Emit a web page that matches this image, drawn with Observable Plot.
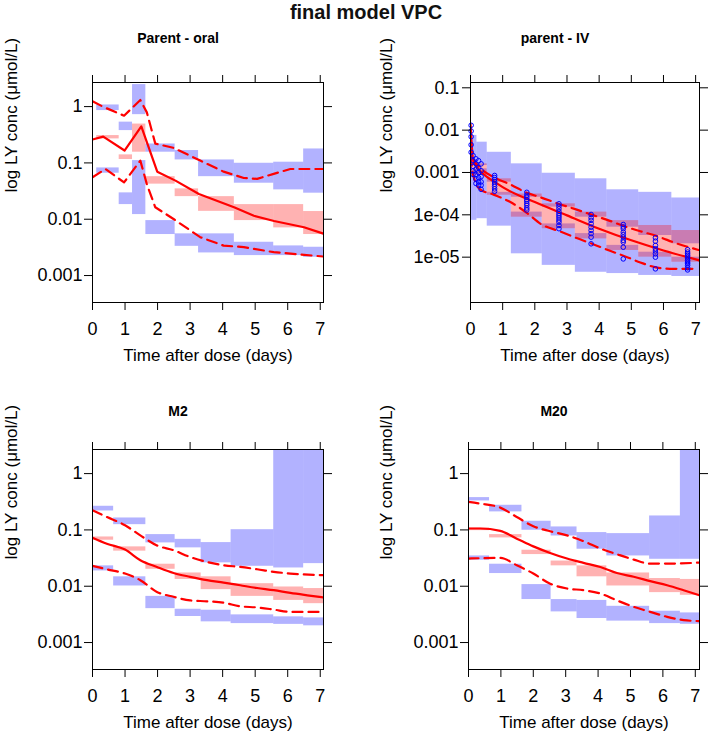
<!DOCTYPE html>
<html>
<head>
<meta charset="utf-8">
<script src="https://cdn.jsdelivr.net/npm/d3@7"></script>
<script src="https://cdn.jsdelivr.net/npm/@observablehq/plot@0.6"></script>
<style>
  body { margin: 0; background: white; }
  #wrap { position: relative; width: 709px; height: 738px; overflow: hidden; font-family: "Liberation Sans", Arial, sans-serif; }
  #wrap svg { position: absolute; background: transparent !important; max-width: none !important; }
  #title { position: absolute; left: 0; top: 1px; width: 732px; text-align: center; font-weight: bold; font-size: 20px; line-height: 22px; color: #111; }
</style>
</head>
<body>
<div id="wrap"></div>
<script>
// ---------- shared ----------
const xTicks = [0, 1, 2, 3, 4, 5, 6, 7];
const yTicksA = [1, 0.1, 0.01, 0.001];
const yLabelsA = ["1", "0.1", "0.01", "0.001"];
const yTicksB = [0.1, 0.01, 0.001, 1e-4, 1e-5];
const yLabelsB = ["0.1", "0.01", "0.001", "1e-04", "1e-05"];
const titles = ["Parent - oral", "parent - IV", "M2", "M20"];
const xTitle = "Time after dose (days)";
const yTitle = "log LY conc (μmol/L)";

// ---------- Panel 1: Parent - oral ----------
const p1BinStart = [0.13, 0.82, 1.23, 1.64, 2.54, 3.26, 4.36, 5.57, 6.49];
const p1BinEnd   = [0.82, 1.23, 1.64, 2.54, 3.26, 4.36, 5.57, 6.49, 7.12];
const p1HiTop = [1.07, 0.53, 2.46, 0.217, 0.166, 0.113, 0.0986, 0.103, 0.177];
const p1HiBot = [0.85, 0.375, 0.72, 0.155, 0.113, 0.057, 0.0436, 0.0332, 0.029];
const p1MedTop = [0.306, 0.139, 0.49, 0.057, 0.0346, 0.0252, 0.0182, 0.0182, 0.0137];
const p1MedBot = [0.267, 0.115, 0.155, 0.042, 0.0252, 0.0138, 0.00946, 0.00702, 0.00535];
const p1LoTop = [0.0815, 0.0294, 0.11, 0.00946, 0.0055, 0.0055, 0.0039, 0.00336, 0.00318];
const p1LoBot = [0.0656, 0.0182, 0.0121, 0.00535, 0.0033, 0.00252, 0.00226, 0.00226, 0.00211];
const p1MedT = [0, 0.33, 0.985, 1.5, 1.99, 2.55, 3.27, 4.35, 4.96, 5.58, 6.5, 7.12];
const p1MedV = [0.26, 0.293, 0.166, 0.447, 0.070, 0.0485, 0.028, 0.0163, 0.0115, 0.0093, 0.0072, 0.0055];
const p1UpT = [0, 0.35, 0.97, 1.47, 1.67, 1.93, 2.49, 3.31, 4.03, 4.65, 5.06, 5.57, 6.08, 7.12];
const p1UpV = [1.24, 0.98, 0.69, 1.31, 0.79, 0.22, 0.185, 0.11, 0.07, 0.054, 0.052, 0.064, 0.078, 0.078];
const p1DnT = [0, 0.4, 0.97, 1.47, 1.67, 1.93, 2.49, 3.31, 4.03, 4.65, 5.57, 7.12];
const p1DnV = [0.0557, 0.078, 0.045, 0.11, 0.042, 0.0163, 0.0101, 0.0048, 0.0034, 0.0032, 0.0026, 0.00217];

// ---------- Panel 2: parent - IV ----------
const p2BinStart = [0, 0.2, 0.52, 1.27, 2.23, 3.26, 4.24, 5.23, 6.26];
const p2BinEnd   = [0.2, 0.52, 1.27, 2.23, 3.26, 4.24, 5.23, 6.26, 7.12];
const p2HiTop = [0.0075, 0.0052, 0.0030, 0.0016, 9.6e-4, 7.1e-4, 3.9e-4, 3.4e-4, 2.5e-4];
const p2HiBot = [1.46e-3, 1.46e-3, 5.9e-4, 2.6e-4, 1.52e-4, 8.8e-5, 5.1e-5, 3.25e-5, 2.07e-5];
const p2MedTop = [1.6e-3, 1.6e-3, 7.1e-4, 3.1e-4, 1.82e-4, 1.16e-4, 7.3e-5, 5.6e-5, 4.26e-5];
const p2MedBot = [8.5e-4, 8.5e-4, 2.9e-4, 8.8e-5, 4.7e-5, 2.7e-5, 1.44e-5, 1.0e-5, 7.6e-6];
const p2LoTop = [1.22e-3, 1.22e-3, 3.4e-4, 1.16e-4, 6.1e-5, 3.6e-5, 1.9e-5, 1.31e-5, 1.0e-5];
const p2LoBot = [7.4e-5, 8.1e-5, 5.4e-5, 1.2e-5, 6.4e-6, 4.4e-6, 4.1e-6, 3.7e-6, 3.5e-6];
const p2MedT = [0, 0.08, 0.25, 0.5, 0.75, 1.0, 2.0, 3.0, 4.0, 5.0, 6.0, 7.12];
const p2MedV = [0.014, 0.002, 0.0012, 8e-4, 6e-4, 4.5e-4, 2.0e-4, 9.7e-5, 4.7e-5, 2.5e-5, 1.44e-5, 8.4e-6];
const p2UpT = [0, 0.08, 0.3, 0.72, 1.24, 1.76, 2.17, 2.8, 3.21, 3.83, 4.25, 4.87, 5.28, 5.9, 6.31, 7.09];
const p2UpV = [0.012, 0.0022, 0.0013, 7.8e-4, 5.2e-4, 3.3e-4, 2.6e-4, 1.76e-4, 1.4e-4, 9.7e-5, 7.6e-5, 5.1e-5, 4.1e-5, 2.95e-5, 2.24e-5, 1.48e-5];
const p2DnT = [0, 0.05, 0.15, 0.3, 0.72, 1.24, 1.76, 2.2, 2.8, 3.21, 3.83, 4.25, 4.87, 5.28, 5.9, 6.31, 6.9];
const p2DnV = [0.006, 0.0012, 6e-4, 4e-4, 3e-4, 2e-4, 1.1e-4, 6e-5, 4e-5, 3e-5, 2e-5, 1.5e-5, 1e-5, 7.5e-6, 5.5e-6, 5.3e-6, 5.3e-6];
const p2ObsT = [0.02, 0.08, 0.17, 0.25, 0.33, 0.75, 1.75, 2.75, 3.75, 4.75, 5.75, 6.75];
const p2ObsV = [
  [0.013, 0.0095, 0.007, 0.0045, 0.003],
  [0.0025, 0.0019, 0.0014, 0.0011, 9e-4],
  [0.0021, 0.0016, 0.0012, 9e-4, 7e-4, 5.5e-4],
  [0.0019, 0.0013, 0.001, 7.5e-4, 6e-4, 5e-4],
  [0.0016, 0.0011, 8e-4, 6e-4, 5e-4, 4e-4],
  [8.5e-4, 7.6e-4, 6.8e-4, 6e-4, 5.3e-4, 4.7e-4, 4.1e-4, 3.6e-4],
  [3.4e-4, 2.9e-4, 2.6e-4, 2.3e-4, 2.1e-4, 1.85e-4, 1.67e-4, 1.45e-4, 1.3e-4],
  [1.82e-4, 1.6e-4, 1.39e-4, 1.2e-4, 1.06e-4, 9.5e-5, 8.5e-5, 7.5e-5, 6.7e-5, 5.6e-5, 4.7e-5],
  [1.02e-4, 8.5e-5, 7.4e-5, 6.2e-5, 5.1e-5, 4.3e-5, 3.6e-5, 2.97e-5, 2.07e-5],
  [5.9e-5, 5.2e-5, 4.7e-5, 3.9e-5, 3.4e-5, 2.97e-5, 2.5e-5, 2.26e-5, 1.72e-5, 9.1e-6],
  [2.87e-5, 2.39e-5, 1.89e-5, 1.58e-5, 1.4e-5, 1.2e-5, 1.0e-5, 5.3e-6],
  [1.5e-5, 1.32e-5, 1.2e-5, 1.1e-5, 1e-5, 9.1e-6, 8.3e-6, 7.6e-6, 7e-6, 6.4e-6, 5.6e-6, 5.0e-6]
];

// ---------- Panel 3: M2 ----------
const p3BinStart = [0, 0.65, 1.64, 2.54, 3.34, 4.26, 5.57, 6.49];
const p3BinEnd   = [0.65, 1.64, 2.54, 3.34, 4.26, 5.57, 6.49, 7.12];
const p3HiTop = [0.263, 0.163, 0.0826, 0.068, 0.0596, 0.101, 5, 5];
const p3HiBot = [0.217, 0.124, 0.0588, 0.048, 0.026, 0.0226, 0.0211, 0.0252];
const p3MedTop = [0.075, 0.05, 0.0246, 0.0172, 0.0147, 0.0111, 0.0097, 0.0091];
const p3MedBot = [0.0656, 0.042, 0.02, 0.0132, 0.0087, 0.0066, 0.0056, 0.0049];
const p3LoTop = [0.023, 0.0147, 0.0066, 0.0039, 0.00375, 0.0031, 0.00286, 0.00274];
const p3LoBot = [0.0187, 0.0101, 0.004, 0.0029, 0.00233, 0.00217, 0.0021, 0.00198];
const p3MedT = [0, 0.44, 1.0, 1.47, 1.98, 2.49, 3.0, 3.52, 4.03, 4.54, 5.06, 5.57, 6.08, 6.6, 7.12];
const p3MedV = [0.073, 0.057, 0.0448, 0.029, 0.022, 0.0172, 0.0147, 0.0128, 0.0116, 0.0104, 0.0093, 0.0085, 0.0076, 0.0069, 0.0063];
const p3UpT = [0, 0.44, 1.0, 1.47, 1.98, 2.49, 3.0, 3.52, 4.03, 4.54, 5.06, 5.57, 6.08, 7.12];
const p3UpV = [0.223, 0.17, 0.121, 0.080, 0.053, 0.0436, 0.033, 0.027, 0.0236, 0.022, 0.02, 0.018, 0.0168, 0.0157];
const p3DnT = [0, 0.44, 1.0, 1.47, 1.98, 2.49, 3.0, 3.52, 4.03, 4.54, 5.06, 5.57, 6.08, 7.12];
const p3DnV = [0.023, 0.02, 0.0168, 0.0128, 0.0079, 0.0065, 0.0056, 0.0054, 0.0051, 0.0044, 0.0042, 0.00385, 0.0035, 0.0035];

// ---------- Panel 4: M20 ----------
const p4BinStart = [0, 0.65, 1.65, 2.55, 3.35, 4.27, 5.59, 6.54];
const p4BinEnd   = [0.65, 1.65, 2.55, 3.35, 4.27, 5.59, 6.54, 7.14];
const p4HiTop = [0.375, 0.274, 0.1426, 0.113, 0.0897, 0.086, 0.177, 5];
const p4HiBot = [0.327, 0.209, 0.0986, 0.078, 0.0454, 0.0345, 0.0301, 0.0301];
const p4MedTop = [0.108, 0.0826, 0.0436, 0.028, 0.023, 0.0172, 0.0137, 0.0132];
const p4MedBot = [0.097, 0.0721, 0.0365, 0.023, 0.0147, 0.0101, 0.0077, 0.0069];
const p4LoTop = [0.0345, 0.0246, 0.0107, 0.0058, 0.0056, 0.0044, 0.0036, 0.00336];
const p4LoBot = [0.029, 0.0168, 0.0058, 0.0035, 0.00267, 0.0024, 0.00217, 0.00211];
const p4MedT = [0, 0.36, 0.98, 1.49, 2.0, 2.52, 3.04, 3.55, 4.07, 4.58, 5.1, 5.61, 6.13, 6.64, 7.14];
const p4MedV = [0.106, 0.106, 0.096, 0.070, 0.051, 0.039, 0.031, 0.026, 0.022, 0.0172, 0.0147, 0.0123, 0.0104, 0.0085, 0.0069];
const p4UpT = [0, 0.36, 0.98, 1.49, 2.0, 2.52, 3.04, 3.55, 4.07, 4.58, 5.1, 5.61, 6.13, 7.14];
const p4UpV = [0.314, 0.293, 0.249, 0.17, 0.116, 0.0946, 0.080, 0.063, 0.0467, 0.037, 0.0297, 0.0252, 0.0252, 0.0263];
const p4DnT = [0, 0.98, 1.49, 2.0, 2.52, 3.04, 3.55, 4.07, 4.58, 5.1, 5.61, 6.13, 6.64, 7.14];
const p4DnV = [0.031, 0.0318, 0.0236, 0.0168, 0.0111, 0.0091, 0.0085, 0.0074, 0.0056, 0.0043, 0.0035, 0.00286, 0.0025, 0.0024];

// ---------- drawing ----------
const BLUE = "#0000ff", RED = "#ff0000";

function bands(start, end, lo, hi, color) {
  return Plot.rect(d3.range(start.length), {
    x1: i => start[i], x2: i => end[i], y1: i => lo[i], y2: i => hi[i],
    fill: color, fillOpacity: 0.3, clip: true
  });
}
function curveLine(t, v, dashed, curve) {
  return Plot.line(d3.range(t.length), {
    x: i => t[i], y: i => v[i], stroke: RED, strokeWidth: 2.2,
    strokeDasharray: dashed ? "10,6" : null, curve: curve, clip: true
  });
}

function panel(o) {
  const fmt = d => o.yLabels[o.yTicks.indexOf(d)];
  const marks = [
    bands(o.bs, o.be, o.hiBot, o.hiTop, BLUE),
    bands(o.bs, o.be, o.loBot, o.loTop, BLUE),
    bands(o.bs, o.be, o.medBot, o.medTop, RED),
    curveLine(o.medT, o.medV, false, o.curve),
    curveLine(o.upT, o.upV, true, o.curve),
    curveLine(o.dnT, o.dnV, true, o.curve)
  ];
  if (o.obs) {
    marks.push(Plot.dot(o.obs, {x: d => d[0], y: d => d[1], r: 2.3, stroke: BLUE, strokeWidth: 1, fill: "none"}));
  }
  marks.push(
    Plot.frame({stroke: "black", strokeWidth: 1}),
    Plot.axisX({anchor: "bottom", ticks: xTicks, tickSize: 8, tickPadding: 12, fontSize: 18, label: null, tickFormat: d => String(d)}),
    Plot.axisX({anchor: "top", ticks: xTicks, tickSize: 8, label: null, tickFormat: () => ""}),
    Plot.axisY({anchor: "left", ticks: o.yTicks, tickSize: 8, tickPadding: o.yPad, fontSize: 18, label: null, tickFormat: fmt}),
    Plot.axisY({anchor: "right", ticks: o.yTicks, tickSize: 8, label: null, tickFormat: () => ""}),
    Plot.text([yTitle], {text: d => d, frameAnchor: "left", rotate: -90, dx: -o.yTitleOff, fontSize: 17}),
    Plot.text([xTitle], {text: d => d, frameAnchor: "bottom", dy: 58, fontSize: 17}),
    Plot.text([o.title], {text: d => d, frameAnchor: "top", dx: -30, dy: -o.titleOff, fontSize: 14, fontWeight: "bold"})
  );
  const svg = Plot.plot({
    width: o.W, height: o.H,
    marginLeft: o.fx0 - o.sx, marginRight: o.sx + o.W - o.fx1,
    marginTop: o.fy0 - o.sy, marginBottom: o.sy + o.H - o.fy1,
    x: {domain: [0, o.xMax]},
    y: {type: "log", domain: o.yDomain},
    style: {fontFamily: "'Liberation Sans', Arial, sans-serif", color: "black", background: "transparent", overflow: "visible"},
    marks
  });
  svg.style.left = o.sx + "px";
  svg.style.top = o.sy + "px";
  return svg;
}

const wrap = document.getElementById("wrap");
const domA = [3.32e-4, 2.68];
const domB = [8.5e-7, 0.1334];

wrap.appendChild(panel({
  sx: 0, sy: 0, W: 354, H: 385, fx0: 92, fx1: 323, fy0: 82, fy1: 302, xMax: 7.1,
  yDomain: domA, yTicks: yTicksA, yLabels: yLabelsA, yPad: 2, yTitleOff: 81, titleOff: 49,
  title: titles[0], curve: "linear",
  bs: p1BinStart, be: p1BinEnd, hiTop: p1HiTop, hiBot: p1HiBot, medTop: p1MedTop, medBot: p1MedBot, loTop: p1LoTop, loBot: p1LoBot,
  medT: p1MedT, medV: p1MedV, upT: p1UpT, upV: p1UpV, dnT: p1DnT, dnV: p1DnV
}));

wrap.appendChild(panel({
  sx: 354, sy: 0, W: 355, H: 385, fx0: 470, fx1: 699, fy0: 82, fy1: 302, xMax: 7.12,
  yDomain: domB, yTicks: yTicksB, yLabels: yLabelsB, yPad: 3, yTitleOff: 84, titleOff: 49,
  title: titles[1], curve: "monotone-x",
  bs: p2BinStart, be: p2BinEnd, hiTop: p2HiTop, hiBot: p2HiBot, medTop: p2MedTop, medBot: p2MedBot, loTop: p2LoTop, loBot: p2LoBot,
  medT: p2MedT, medV: p2MedV, upT: p2UpT, upV: p2UpV, dnT: p2DnT, dnV: p2DnV,
  obs: p2ObsT.flatMap((t, j) => p2ObsV[j].map(v => [t, v]))
}));

wrap.appendChild(panel({
  sx: 0, sy: 385, W: 354, H: 353, fx0: 92, fx1: 323, fy0: 449, fy1: 669, xMax: 7.1,
  yDomain: domA, yTicks: yTicksA, yLabels: yLabelsA, yPad: 2, yTitleOff: 81, titleOff: 43,
  title: titles[2], curve: "monotone-x",
  bs: p3BinStart, be: p3BinEnd, hiTop: p3HiTop, hiBot: p3HiBot, medTop: p3MedTop, medBot: p3MedBot, loTop: p3LoTop, loBot: p3LoBot,
  medT: p3MedT, medV: p3MedV, upT: p3UpT, upV: p3UpV, dnT: p3DnT, dnV: p3DnV
}));

wrap.appendChild(panel({
  sx: 354, sy: 385, W: 355, H: 353, fx0: 468, fx1: 699, fy0: 449, fy1: 669, xMax: 7.13,
  yDomain: domA, yTicks: yTicksA, yLabels: yLabelsA, yPad: 2, yTitleOff: 82, titleOff: 43,
  title: titles[3], curve: "monotone-x",
  bs: p4BinStart, be: p4BinEnd, hiTop: p4HiTop, hiBot: p4HiBot, medTop: p4MedTop, medBot: p4MedBot, loTop: p4LoTop, loBot: p4LoBot,
  medT: p4MedT, medV: p4MedV, upT: p4UpT, upV: p4UpV, dnT: p4DnT, dnV: p4DnV
}));

const t = document.createElement("div");
t.id = "title";
t.textContent = "final model VPC";
wrap.appendChild(t);
</script>
</body>
</html>
